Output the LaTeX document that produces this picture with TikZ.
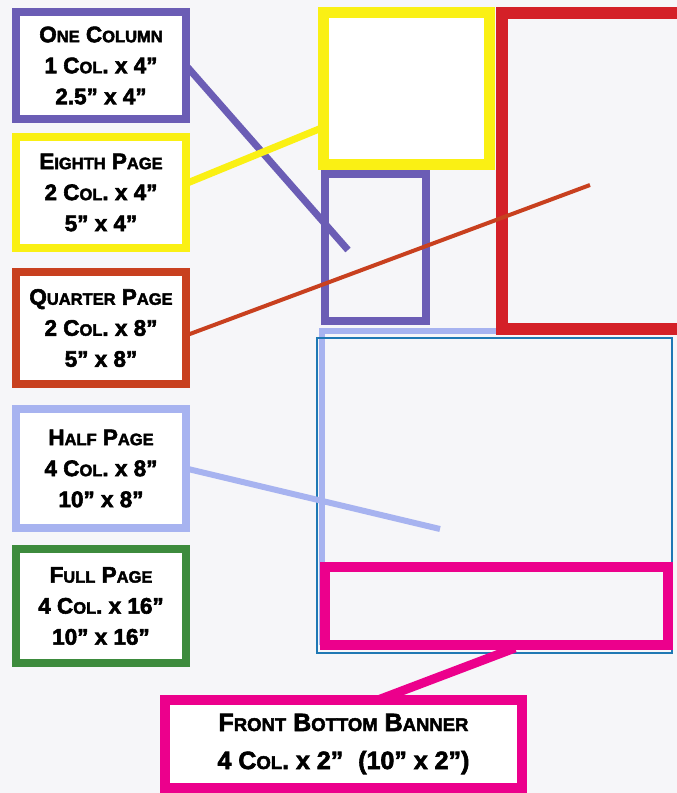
\documentclass[tikz,border=0pt]{standalone}
\usepackage{fontspec}
\newfontfamily\adfont{Liberation Sans Bold}[FakeBold=2.5]
\definecolor{paper}{RGB}{246,246,249}
\definecolor{adpurple}{RGB}{107,93,181}
\definecolor{adyellow}{RGB}{250,240,20}
\definecolor{adorange}{RGB}{200,64,31}
\definecolor{adred}{RGB}{212,32,40}
\definecolor{adlilac}{RGB}{167,179,240}
\definecolor{adgreen}{RGB}{61,139,61}
\definecolor{adblue}{RGB}{31,120,180}
\definecolor{admagenta}{RGB}{236,0,140}
\newcommand\sm[1]{{\fontsize{16.5}{16.5}\selectfont #1}}
\newcommand\smb[1]{{\fontsize{18.5}{18.5}\selectfont #1}}
\tikzset{
  sizebox/.style={draw=#1, line width=8, fill=white, minimum width=170,
    font=\adfont\fontsize{22.5}{31}\selectfont},
  pagebox/.style={draw=#1, line width=10},
  link/.style={draw=#1, line width=7}
}
\begin{document}
\begin{tikzpicture}[x=1pt,y=-1pt,every node/.style={outer sep=0pt, inner sep=0pt, align=center}]
\fill[paper] (0,0) rectangle (677,793);
\clip (0,0) rectangle (677,793);

% page layout
\draw[adlilac, line width=6] (322,645) |- (690,331);
\node[pagebox=adblue, line width=2, minimum width=355, minimum height=315] (pagearea) at (494.5,495.5) {};
\node[pagebox=admagenta, minimum width=343, minimum height=78] (bannerarea) at (496.5,606) {};
\node[pagebox=adred, line width=12, fill=paper, minimum width=182, minimum height=316] (quarterarea) at (593,171) {};
\node[pagebox=adpurple, line width=8, fill=paper, minimum width=101, minimum height=147] (onecolarea) at (375.5,247.5) {};
\node[pagebox=adyellow, line width=11, fill=white, minimum width=166, minimum height=152] (eightharea) at (406.5,88.5) {};

% size labels
\node[sizebox=adpurple, minimum height=107] (onecol) at (101,65.5) {O\sm{NE} C\sm{OLUMN}\\1 C\sm{OL}. x 4”\\2.5” x 4”};
\node[sizebox=adyellow, minimum height=111] (eighth) at (101,192.5) {E\sm{IGHTH} P\sm{AGE}\\2 C\sm{OL}. x 4”\\5” x 4”};
\node[sizebox=adorange, minimum height=112] (quarter) at (101,328) {Q\sm{UARTER} P\sm{AGE}\\2 C\sm{OL}. x 8”\\5” x 8”};
\node[sizebox=adlilac, minimum height=119] (half) at (101,468.5) {H\sm{ALF} P\sm{AGE}\\4 C\sm{OL}. x 8”\\10” x 8”};
\node[sizebox=adgreen, minimum height=114] (full) at (101,606) {F\sm{ULL} P\sm{AGE}\\4 C\sm{OL}. x 16”\\10” x 16”};
\node[sizebox=admagenta, line width=10, minimum width=357, minimum height=88,
  font=\adfont\fontsize{25}{38}\selectfont] (banner) at (343.5,744)
  {F\smb{RONT} B\smb{OTTOM} B\smb{ANNER}\\4 C\smb{OL}. x 2”\hspace{0.6em}(10” x 2”)};

% connectors
\coordinate (onecolend) at (348,250);
\coordinate (quarterend) at (590,185);
\coordinate (halfend) at (440,529);
\coordinate (bannerend) at (515,648);
\draw[link=adpurple] (onecol.east) -- (onecolend);
\draw[link=adyellow] (eighth.6) -- (eightharea.205);
\draw[link=adorange, line width=4] (quarter.-5) -- (quarterend);
\draw[link=adlilac, line width=6] (half.east) -- (halfend);
\draw[link=admagenta, line width=9] (banner.52) -- (bannerend);
\end{tikzpicture}
\end{document}
